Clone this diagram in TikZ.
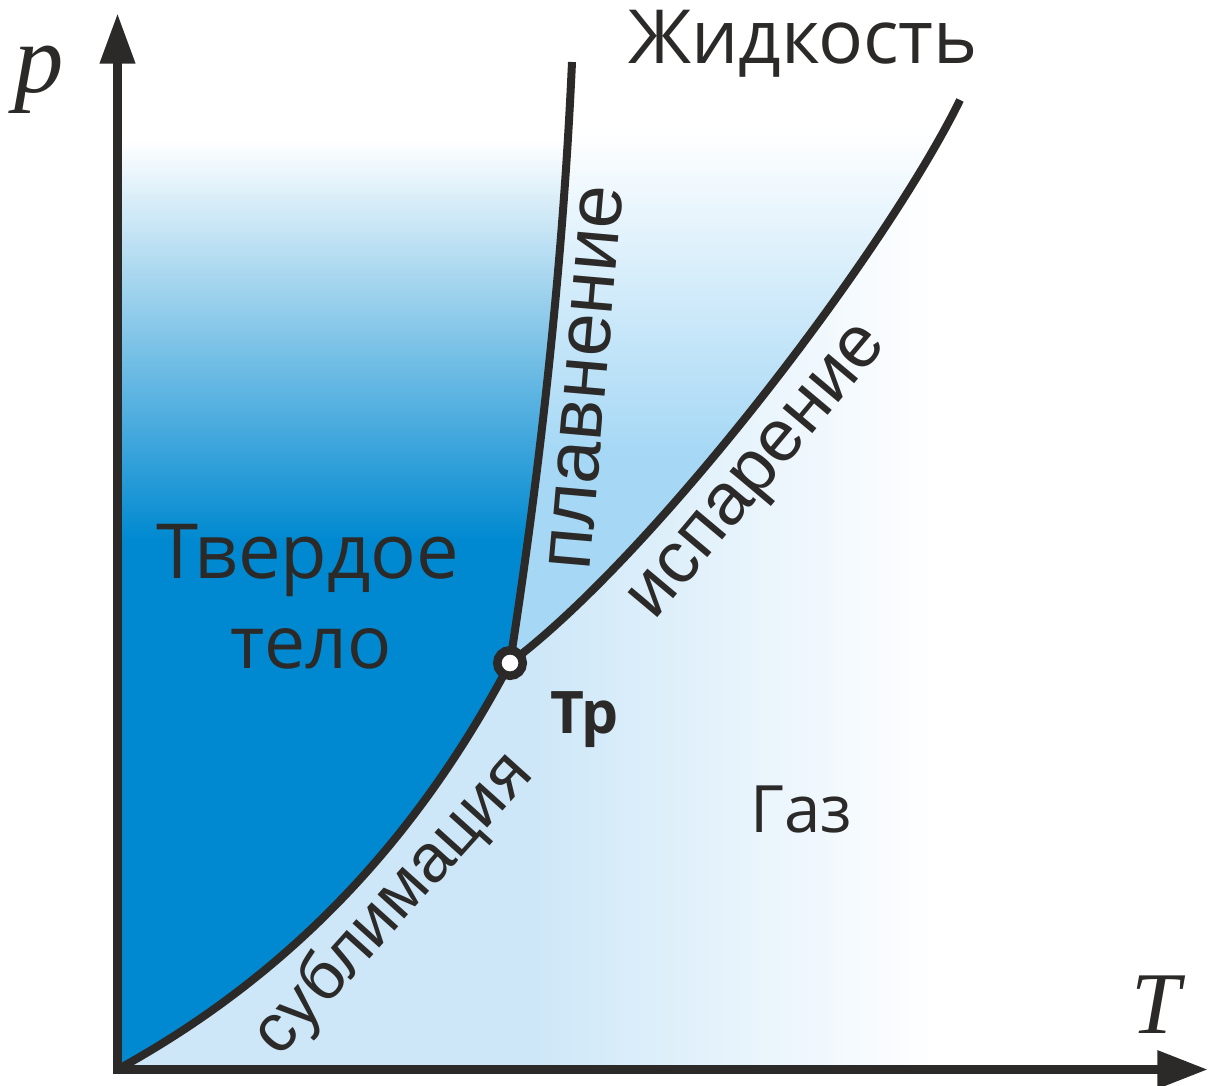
\documentclass[tikz,border=0pt]{standalone}
\usepackage{fontspec}
\setmainfont{Open Sans}
\newfontfamily\curvefont{Liberation Sans}
\newfontfamily\axisfont{Liberation Serif}
\usetikzlibrary{arrows.meta}

\definecolor{inkdark}{RGB}{43,42,41}
\definecolor{solidblue}{RGB}{0,137,208}
\definecolor{liquidblue}{RGB}{166,216,245}
\definecolor{gasblue}{RGB}{205,231,248}

\tikzset{every picture/.style={line width=0.75pt}}
\tikzset{
  axisline/.style={draw=inkdark, line width=7pt, line join=miter},
  phaseline/.style={draw=inkdark, line width=6pt},
  curvelabel/.style={text=inkdark, inner sep=0pt, font=\curvefont\fontsize{55}{55}\selectfont},
  arealabel/.style={text=inkdark, inner sep=0pt, font=\fontsize{55}{55}\selectfont},
  axislabel/.style={text=inkdark, inner sep=0pt, anchor=base west},
}

\begin{document}
\begin{tikzpicture}[x=0.75pt,y=0.75pt,yscale=-1,xscale=1]
\useasboundingbox (0,0) rectangle (1223,1085);

% key points
\coordinate (O) at (117.5,1069.5);
\coordinate (Tr) at (510,663);
\coordinate (Mtop) at (572,62);
\coordinate (Vtop) at (960,100);
\coordinate (ptip) at (117.5,13);
\coordinate (Ttip) at (1208,1069.5);

%Shape: solid region
\begin{scope}
\clip (O) .. controls (295,972) and (420,834) .. (Tr) .. controls (541,463) and (563,262) .. (Mtop) -- (117.5,62) -- cycle;
\shade[top color=white, bottom color=solidblue] (117.5,140) rectangle (600,540);
\fill[solidblue] (117.5,539) rectangle (600,1070);
\end{scope}

%Shape: liquid region
\begin{scope}
\clip (Tr) .. controls (541,463) and (563,262) .. (Mtop) -- (960,62) -- (Vtop) .. controls (885,253) and (654,555) .. (Tr) -- cycle;
\shade[top color=white, bottom color=liquidblue] (500,130) rectangle (970,450);
\fill[liquidblue] (500,449) rectangle (970,670);
\end{scope}

%Shape: gas region
\begin{scope}
\clip (O) .. controls (295,972) and (420,834) .. (Tr) .. controls (654,555) and (885,253) .. (Vtop) -- (1223,100) -- (1223,1069.5) -- cycle;
\fill[gasblue] (117.5,90) rectangle (531,1070);
\shade[left color=gasblue, right color=white] (530,90) rectangle (935,1070);
\end{scope}

%Curve Lines: sublimation, melting, vaporization
\draw[phaseline] (O) .. controls (295,972) and (420,834) .. (Tr);
\draw[phaseline] (Tr) .. controls (541,463) and (563,262) .. (Mtop);
\draw[phaseline] (Tr) .. controls (654,555) and (885,253) .. (Vtop);

%Straight Lines: axes
\draw[axisline, {Triangle[length=38pt,width=25pt]}-{Triangle[length=38pt,width=27pt]}] (ptip) -- (O) -- (Ttip);

%Shape: triple point
\draw[draw=inkdark, line width=6.4pt, fill=white] (Tr) circle (12.75);

% Text Node
\node[arealabel, anchor=base, font=\fontsize{57}{57}\selectfont] (solidA) at (308,578) {Твердое};
% Text Node
\node[arealabel, anchor=base] (solidB) at (311,668) {тело};
% Text Node
\node[arealabel, anchor=base, font=\fontsize{56}{56}\selectfont] (liquid) at (803,63) {Жидкость};
% Text Node
\node[arealabel, anchor=base, font=\fontsize{49}{49}\selectfont] (gas) at (801,832) {Газ};
% Text Node
\node[text=inkdark, inner sep=0pt, anchor=base west, font=\bfseries\fontsize{44}{44}\selectfont] (trlabel) at (550,733) {Тр};
% Text Node
\node[curvelabel, rotate=85, font=\curvefont\fontsize{58}{58}\selectfont] (melt) at (586,378) {плавнение};
% Text Node
\node[curvelabel, rotate=50] (vap) at (762,475) {испарение};
% Text Node
\node[curvelabel, rotate=48, font=\curvefont\fontsize{51}{51}\selectfont] (subl) at (394,905) {сублимация};
% Text Node
\node[axislabel, font=\axisfont\itshape\fontsize{74}{74}\selectfont] (plabel) at (14,92) {p};
% Text Node
\node[axislabel, font=\axisfont\itshape\fontsize{66}{66}\selectfont] (Tlabel) at (1131,1033) {T};

\end{tikzpicture}
\end{document}
